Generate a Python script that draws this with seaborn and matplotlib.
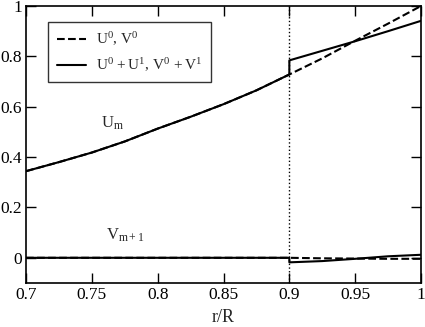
import matplotlib
matplotlib.use("Agg")
import matplotlib.pyplot as plt
import seaborn as sns
import pandas as pd

# values
r_in = [0.70, 0.725, 0.75, 0.775, 0.80, 0.825, 0.85, 0.875, 0.90]
u_in = [0.344, 0.38, 0.418, 0.462, 0.513, 0.56, 0.61, 0.665, 0.728]
v_in = [0, 0, 0, 0, 0, 0, 0, 0, 0]

r_out = [0.90, 0.925, 0.95, 0.975, 1.00]
u0_out = [0.728, 0.792, 0.862, 0.93, 1.00]
u1_out = [0.784, 0.822, 0.860, 0.90, 0.941]
v0_out = [0.0, -0.002, -0.003, -0.004, -0.004]
v1_out = [-0.018, -0.013, -0.004, 0.006, 0.012]

x_ticks = [0.7, 0.75, 0.8, 0.85, 0.9, 0.95, 1]
x_labels = ["0.7", "0.75", "0.8", "0.85", "0.9", "0.95", "1"]
y_ticks = [0, 0.2, 0.4, 0.6, 0.8, 1]
y_labels = ["0", "0.2", "0.4", "0.6", "0.8", "1"]

sns.set_style("ticks")
plt.rcParams["font.family"] = ["Liberation Serif", "DejaVu Serif"]
plt.rcParams["mathtext.fontset"] = "custom"
plt.rcParams["mathtext.rm"] = "Liberation Serif"
plt.rcParams["mathtext.it"] = "Liberation Serif:italic"

# build the curves (order matters: vertical jump at r = 0.9)
u0 = pd.DataFrame({"r": r_in + r_out[1:], "val": u_in + u0_out[1:]})
u1 = pd.DataFrame({"r": r_in + r_out, "val": u_in + u1_out})
v0 = pd.DataFrame({"r": r_in + r_out[1:], "val": v_in + v0_out[1:]})
v1 = pd.DataFrame({"r": r_in + r_out, "val": v_in + v1_out})

fig = plt.figure(figsize=(4.25, 3.27), dpi=100)
ax = fig.add_axes([0.0612, 0.1346, 0.9294, 0.8471])

ax.axvline(0.9, color="black", ls=":", lw=1.0)

sns.lineplot(data=u0, x="r", y="val", ax=ax, color="black", lw=1.5, ls="--",
             sort=False, estimator=None, label=r"$\mathrm{U}^0\mathrm{,\,V}^0$")
sns.lineplot(data=v0, x="r", y="val", ax=ax, color="black", lw=1.5, ls="--",
             sort=False, estimator=None)
sns.lineplot(data=u1, x="r", y="val", ax=ax, color="black", lw=1.5,
             sort=False, estimator=None,
             label=r"$\mathrm{U}^0\mathrm{\,+U}^1\mathrm{,\,V}^0\mathrm{\,+V}^1$")
sns.lineplot(data=v1, x="r", y="val", ax=ax, color="black", lw=1.5,
             sort=False, estimator=None)

ax.text(0.766, 0.535, r"$\mathrm{U}_\mathrm{m}$", ha="center", va="center", fontsize=12)
ax.text(0.775, 0.088, r"$\mathrm{V}_\mathrm{m+1}$", ha="center", va="center", fontsize=12)

ax.set_xlim(0.7, 1.0)
ax.set_ylim(-0.1, 1.0)
ax.set_xticks(x_ticks)
ax.set_xticklabels(x_labels)
ax.set_yticks(y_ticks)
ax.set_yticklabels(y_labels)
ax.set_xlabel("r/R", fontsize=13, labelpad=4)
ax.set_ylabel("")
ax.tick_params(direction="in", length=7, width=1, top=True, right=True,
               labelsize=12.5, colors="black", pad=3)
for s in ax.spines.values():
    s.set_linewidth(1.2)
    s.set_color("black")

leg = ax.legend(loc="upper left", bbox_to_anchor=(0.056, 0.942), fontsize=11,
                frameon=True, fancybox=False, handlelength=1.9, handletextpad=0.7,
                borderpad=0.55, labelspacing=0.55, borderaxespad=0)
leg.get_frame().set_edgecolor("black")
leg.get_frame().set_linewidth(1.0)

fig.savefig("out.png", dpi=100)
